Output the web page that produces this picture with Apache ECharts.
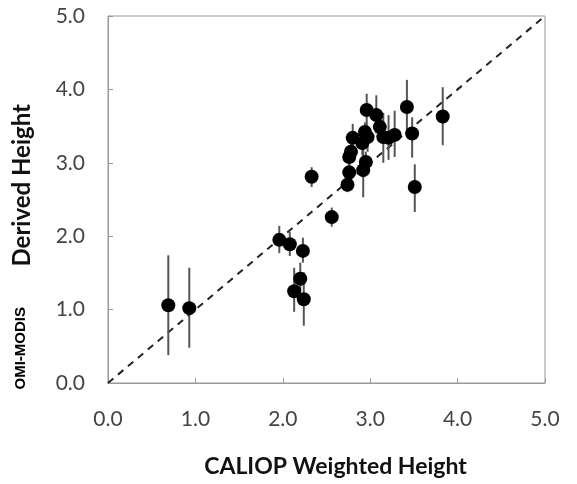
<!DOCTYPE html>
<html>
<head>
<meta charset="utf-8">
<script src="https://cdn.jsdelivr.net/npm/echarts@6/dist/echarts.min.js"></script>
<style>
  html, body { margin: 0; padding: 0; background: #fff; }
  #chart { width: 577px; height: 484px; }
</style>
</head>
<body>
<div id="chart"></div>
<script>
// CALIOP weighted height (x) vs OMI-MODIS derived height (y), with error bars
var caliopX = [0.69, 0.93, 1.96, 2.08, 2.23, 2.20, 2.13, 2.24, 2.56, 2.33,
               2.74, 2.76, 2.76, 2.78, 2.80, 2.92, 2.95, 2.91, 2.94, 2.97,
               2.96, 3.07, 3.11, 3.15, 3.21, 3.28, 3.42, 3.48, 3.51, 3.83];
var derivedY = [1.06, 1.02, 1.95, 1.89, 1.80, 1.42, 1.25, 1.14, 2.26, 2.81,
                2.70, 2.87, 3.08, 3.15, 3.34, 2.90, 3.01, 3.27, 3.42, 3.35,
                3.72, 3.65, 3.49, 3.35, 3.34, 3.38, 3.76, 3.40, 2.67, 3.63];
var errLow  = [0.38, 0.48, 1.77, 1.73, 1.64, 1.25, 0.97, 0.78, 2.13, 2.67,
               2.60, 2.75, 2.95, 3.02, 3.20, 2.53, 2.88, 3.10, 3.28, 3.15,
               3.45, 3.40, 3.30, 3.00, 3.04, 3.08, 3.35, 3.07, 2.33, 3.24];
var errHigh = [1.74, 1.57, 2.14, 2.06, 1.98, 1.64, 1.57, 1.51, 2.39, 2.94,
               2.82, 3.00, 3.20, 3.28, 3.53, 3.20, 3.15, 3.40, 3.55, 3.50,
               3.94, 3.92, 3.70, 3.68, 3.65, 3.71, 4.13, 3.62, 2.98, 4.03];
var oneToOne = [[0, 0], [5, 5]];

var points = [], bars = [];
for (var i = 0; i < caliopX.length; i++) {
  points.push([caliopX[i], derivedY[i]]);
  bars.push([caliopX[i], errLow[i], errHigh[i]]);
}

var myChart = echarts.init(document.getElementById('chart'));
var tickFont = { color: '#444', fontSize: 21, fontFamily: 'Lato' };
var axisGray = '#999';

var option = {
  animation: false,
  grid: {
    left: 108, right: 32, top: 16, bottom: 101,
    show: true, borderColor: axisGray, borderWidth: 1
  },
  xAxis: {
    type: 'value', min: 0, max: 5, interval: 1,
    name: 'CALIOP Weighted Height',
    nameLocation: 'middle', nameGap: 72,
    nameTextStyle: { color: '#111', fontSize: 23, fontWeight: 'bold', fontFamily: 'Lato', padding: [0, 0, 0, 18] },
    axisLine: { show: true, lineStyle: { color: axisGray } },
    axisTick: { show: true, inside: true, length: 5, lineStyle: { color: axisGray } },
    axisLabel: Object.assign({ margin: 26, formatter: function (v) { return v.toFixed(1); } }, tickFont),
    splitLine: { show: false }
  },
  yAxis: {
    type: 'value', min: 0, max: 5, interval: 1,
    axisLine: { show: true, lineStyle: { color: axisGray } },
    axisTick: { show: true, inside: true, length: 5, lineStyle: { color: axisGray } },
    axisLabel: Object.assign({ margin: 23, formatter: function (v) { return v.toFixed(1); } }, tickFont),
    splitLine: { show: false }
  },
  graphic: [
    {
      type: 'text',
      left: 10, top: 104,
      rotation: Math.PI / 2,
      style: {
        text: 'Derived Height',
        fill: '#111',
        font: 'bold 24px Lato, sans-serif'
      }
    },
    {
      type: 'text',
      left: 13, top: 307,
      rotation: Math.PI / 2,
      style: {
        text: 'OMI-MODIS',
        fill: '#000',
        font: 'bold 15px "Liberation Sans", Arial, sans-serif'
      }
    }
  ],
  series: [
    {
      // 1:1 reference line
      type: 'line',
      data: oneToOne,
      symbol: 'none',
      lineStyle: { color: '#222', width: 2, type: [7, 6] },
      z: 1
    },
    {
      type: 'custom',
      data: bars,
      renderItem: function (params, api) {
        var top = api.coord([api.value(0), api.value(2)]);
        var bot = api.coord([api.value(0), api.value(1)]);
        return {
          type: 'line',
          shape: { x1: top[0], y1: top[1], x2: bot[0], y2: bot[1] },
          style: { stroke: '#555', lineWidth: 2 }
        };
      },
      z: 2
    },
    {
      type: 'scatter',
      data: points,
      symbolSize: 14,
      itemStyle: { color: '#000', opacity: 1 },
      z: 3
    }
  ]
};

myChart.setOption(option);
</script>
</body>
</html>
